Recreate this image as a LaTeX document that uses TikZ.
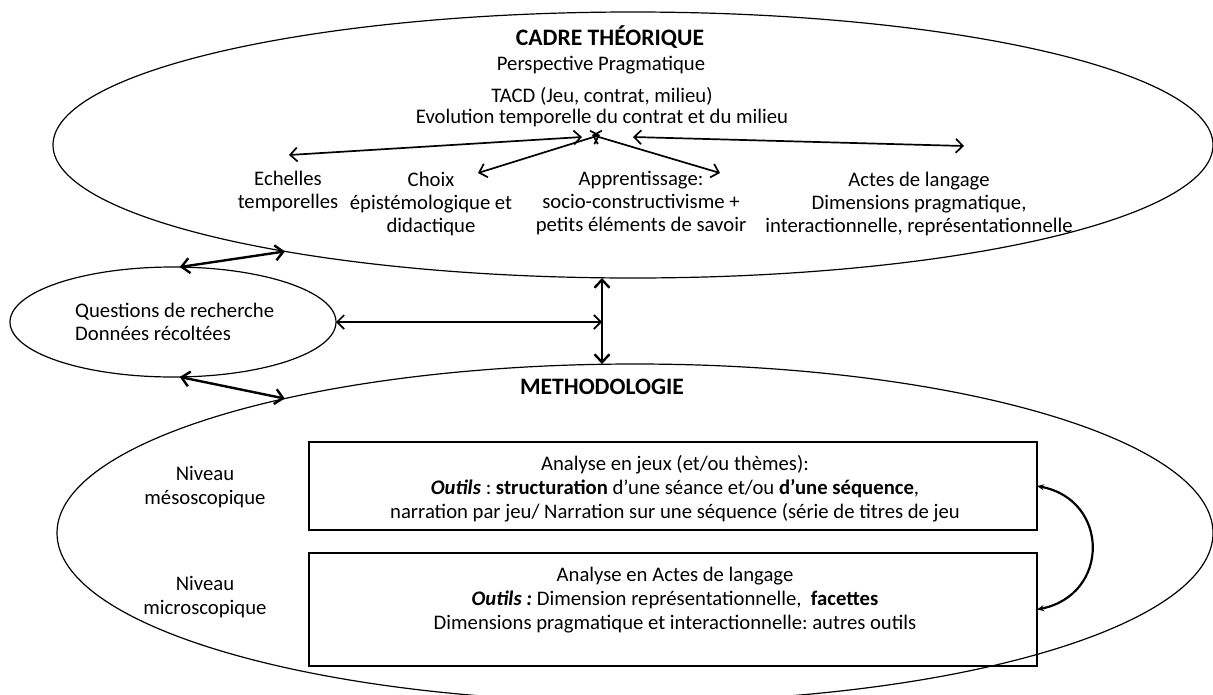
\documentclass[tikz,border=0pt]{standalone}
\usepackage{fontspec}
\setmainfont{Carlito}
\frenchspacing
\usetikzlibrary{arrows.meta,shapes.geometric,calc}

\begin{document}
\begin{tikzpicture}[x=1pt,y=-1pt,
  txt/.style={align=center,inner sep=0pt,font=\fontsize{20.7}{23}\selectfont},
  txtb/.style={txt,font=\fontsize{20.7}{24}\selectfont},
  titre/.style={inner sep=0pt,font=\fontsize{23.6}{26}\selectfont\bfseries},
  bulle/.style={draw,ellipse,line width=1.2pt,inner sep=0pt,outer sep=0pt},
  cadreb/.style={draw,line width=1.2pt,inner sep=0pt,outer sep=0pt},
  fl/.style={{Straight Barb[length=7pt,width=14pt]}-{Straight Barb[length=7pt,width=14pt]},line width=1.7pt},
  flg/.style={{Straight Barb[length=8pt,width=15pt]}-{Straight Barb[length=8pt,width=15pt]},line width=2.4pt}]
\useasboundingbox (0,0) rectangle (1213,694);
\clip (0,0) rectangle (1213,694);

\node[bulle,minimum width=1160pt,minimum height=266pt] (cadre) at (633,145) {};
\node[bulle,minimum width=326pt,minimum height=110pt] (questions) at (173,322) {};
\node[bulle,minimum width=1156pt,minimum height=338pt] (methodo) at (635,533) {};

\node[titre] (tcadre) at (610,37) {CADRE THÉORIQUE};
\node[txt] (persp) at (601,65) {Perspective Pragmatique};
\node[txt,font=\fontsize{20.7}{21}\selectfont] (tacd) at (602,107.5) {TACD (Jeu, contrat, milieu)\\Evolution temporelle du contrat et du milieu};
\node[txt] (echelles) at (288,191.5) {Echelles\\temporelles};
\node[txt] (choix) at (431,203.5) {Choix\\épistémologique et\\didactique};
\node[txt] (apprent) at (641,203.5) {Apprentissage:\\socio-constructivisme +\\petits éléments de savoir};
\node[txt] (actes) at (919,203.5) {Actes de langage\\Dimensions pragmatique,\\interactionnelle, représentationnelle};

\coordinate (hE) at (582,137); \coordinate (pE) at (289,155);
\coordinate (hC) at (600,135); \coordinate (pC) at (478,173);
\coordinate (hA) at (592,135); \coordinate (pA) at (720,173);
\coordinate (hL) at (633,137); \coordinate (pL) at (964,146);
\draw[fl] (hE) -- (pE);
\draw[fl] (hC) -- (pC);
\draw[fl] (hA) -- (pA);
\draw[fl] (hL) -- (pL);

\node[txt,align=left,anchor=west] (tquest) at (75,321.5) {Questions de recherche\\Données récoltées};
\coordinate (pivot) at (602,322);
\draw[fl] (questions.east) -- (pivot);
\draw[flg] (pivot |- cadre.south) -- (pivot |- methodo.north);
\draw[flg] (questions.83) -- (cadre.197);
\draw[flg] (questions.277) -- (methodo.159);

\node[titre] (tmethodo) at (602,387) {METHODOLOGIE};
\node[txtb] (meso) at (205,487.5) {Niveau\\mésoscopique};
\node[txtb] (micro) at (205,597.5) {Niveau\\microscopique};

\node[cadreb,minimum width=728pt,minimum height=88pt] (jeux) at (673,486) {};
\node[cadreb,minimum width=728pt,minimum height=113pt] (langage) at (673,609.5) {};
\node[txtb] (tjeux) at ($(jeux.center)+(2,2.5)$) {Analyse en jeux (et/ou thèmes):\\\textbf{\textit{Outils}} : \textbf{structuration} d’une séance et/ou \textbf{d’une séquence},\\narration par jeu/ Narration sur une séquence (série de titres de jeu};
\node[txtb] (tlangage) at ($(langage.center)+(2,-9.5)$) {Analyse en Actes de langage\\\textbf{\textit{Outils :}} Dimension représentationnelle,~ \textbf{facettes}\\Dimensions pragmatique et interactionnelle: autres outils};

\draw[{Stealth[length=7pt,width=6pt]}-{Stealth[length=7pt,width=6pt]},line width=2.2pt] (jeux.east) .. controls (1110,500) and (1110,595) .. (langage.east);
\end{tikzpicture}
\end{document}
